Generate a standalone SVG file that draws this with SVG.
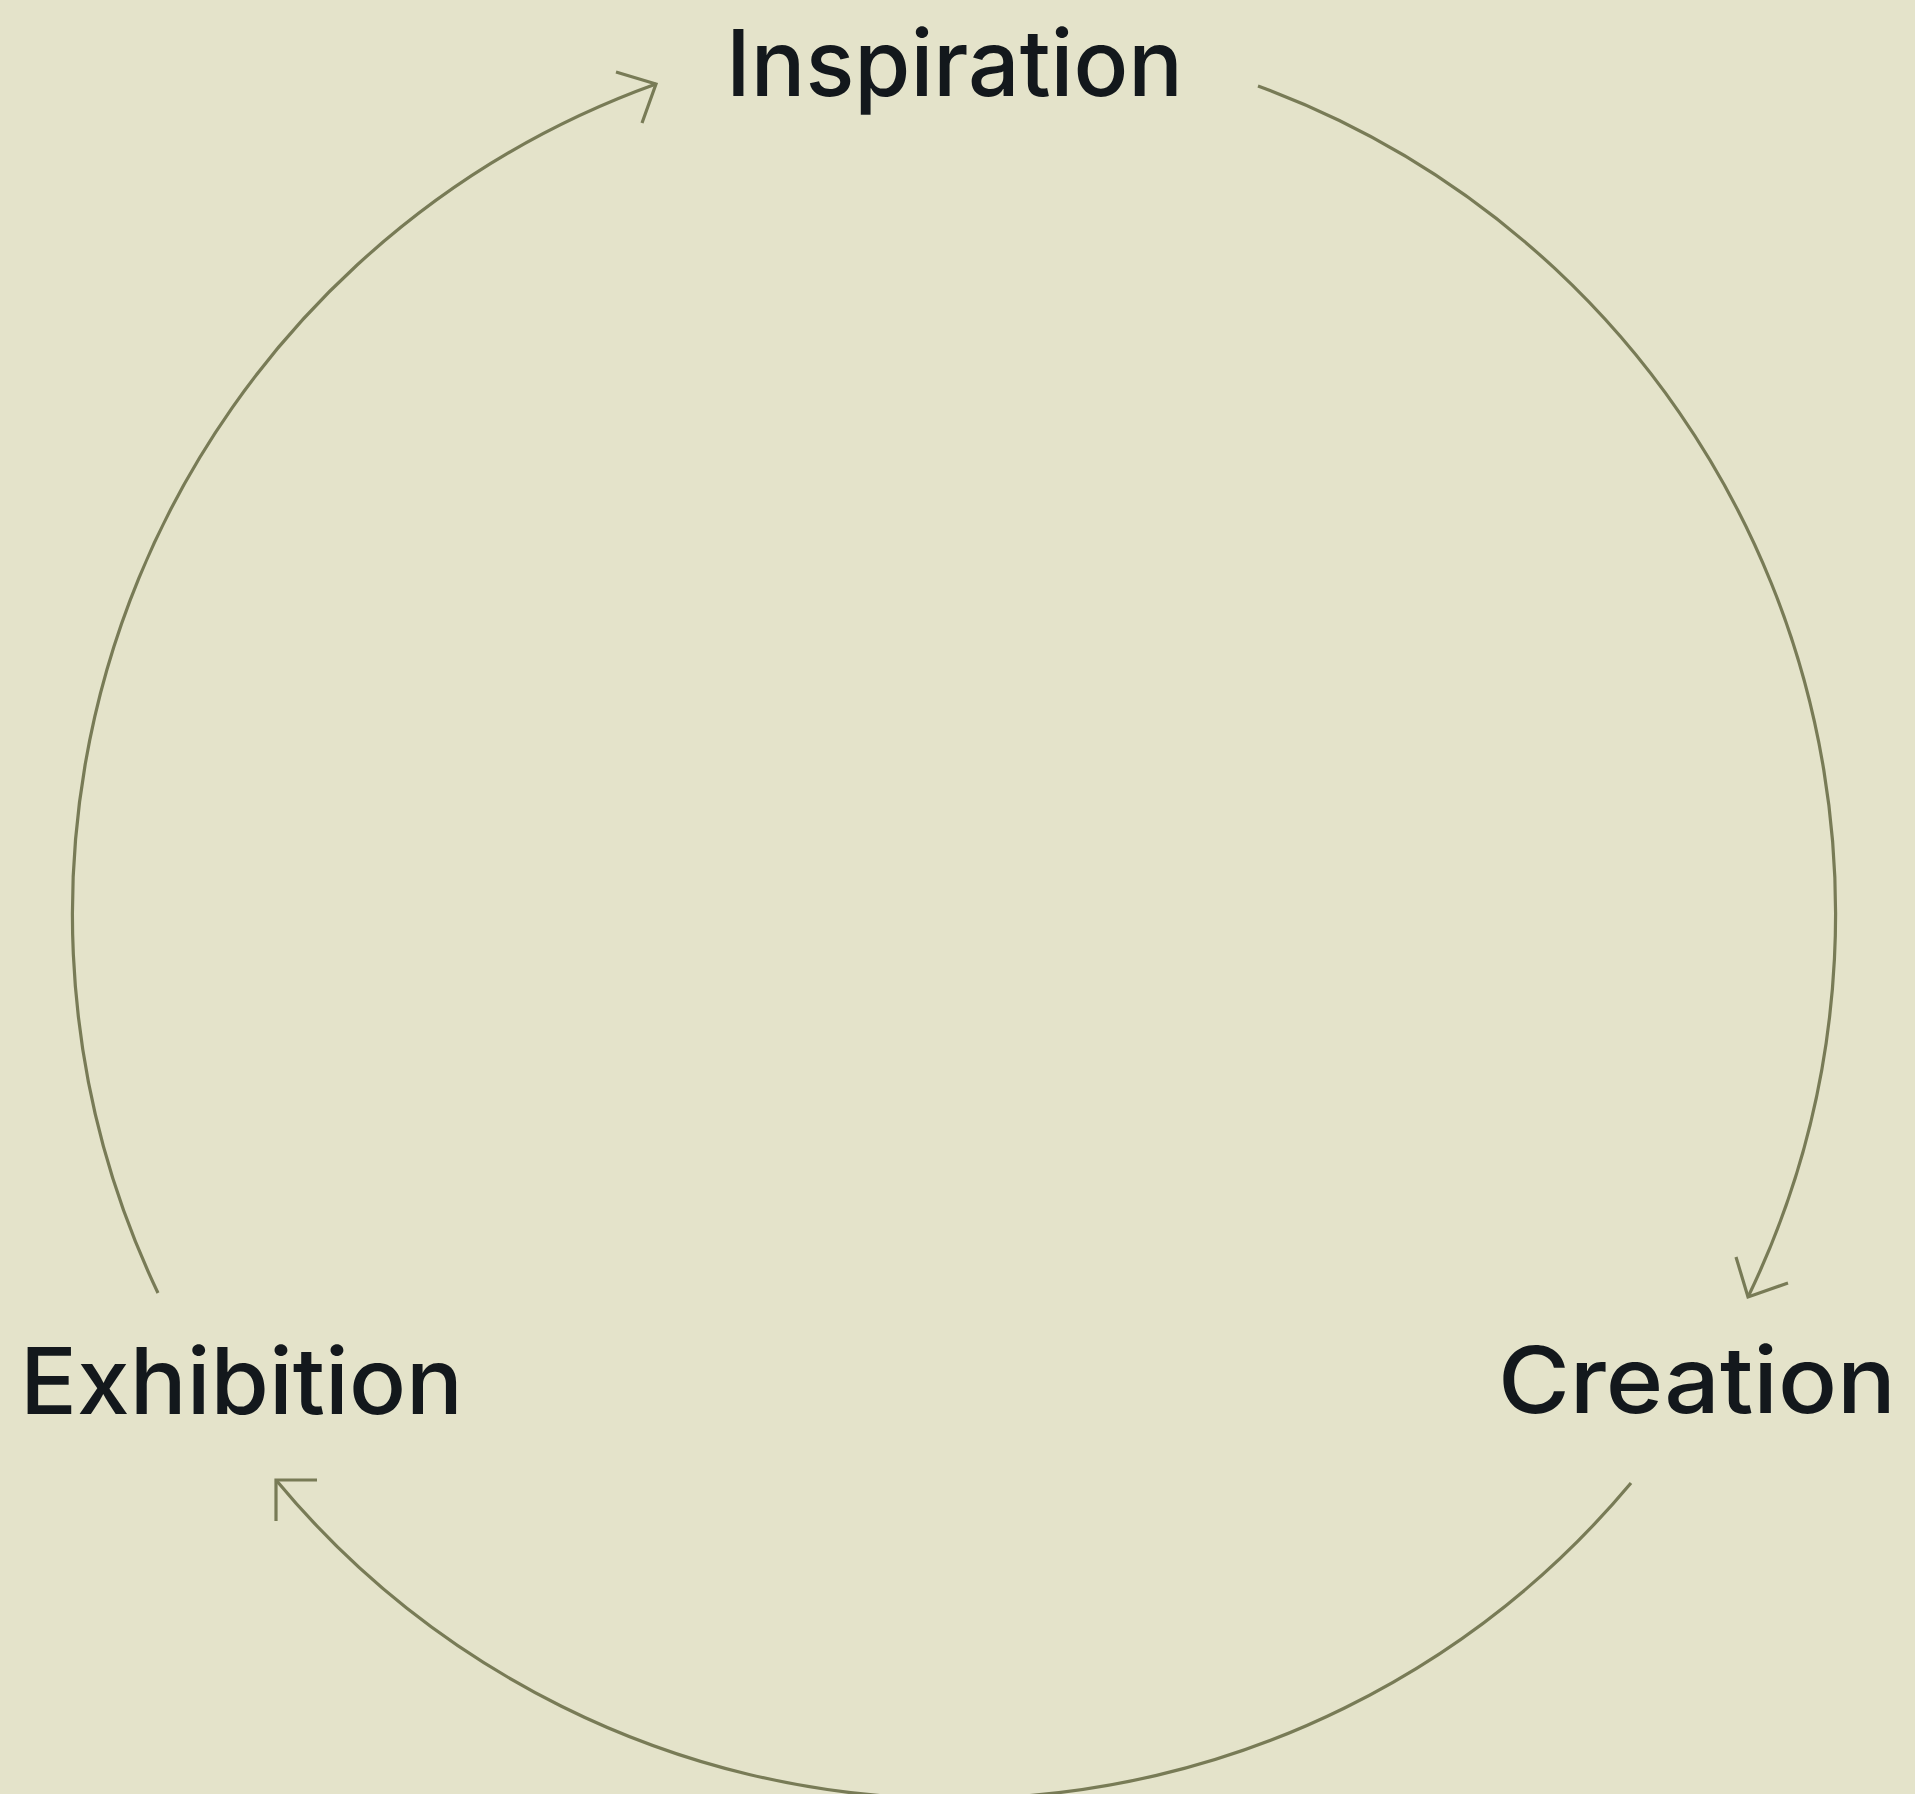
<svg xmlns="http://www.w3.org/2000/svg" width="1915" height="1794" viewBox="0 0 1915 1794">
  <style>
    .bg { fill: #e4e3ca; }
    .label { font-family: Inter, "Liberation Sans", sans-serif; font-weight: 500; font-size: 92px; fill: #13181c; }
    .arc { fill: none; stroke: #787b56; stroke-width: 3.2; }
    .head { fill: none; stroke: #787b56; stroke-width: 3.2; stroke-linejoin: miter; }
  </style>
  <rect class="bg" x="0" y="0" width="1915" height="1794"/>
  <g id="connectors">
    <path class="arc" d="M 1258 86 A 882 882 0 0 1 1748 1297"/>
    <polyline class="head" points="1736,1257 1748,1297 1788,1283"/>
    <path class="arc" d="M 1631 1483 A 882 882 0 0 1 276 1480"/>
    <polyline class="head" points="317,1480 276,1480 276,1521"/>
    <path class="arc" d="M 158 1293 A 882 882 0 0 1 656 84"/>
    <polyline class="head" points="616,72 656,84 642,123"/>
  </g>
  <g id="node-inspiration">
    <text class="label" x="726" y="96" textLength="457" lengthAdjust="spacingAndGlyphs">Inspiration</text>
  </g>
  <g id="node-creation">
    <text class="label" x="1498" y="1413" textLength="398" lengthAdjust="spacingAndGlyphs">Creation</text>
  </g>
  <g id="node-exhibition">
    <text class="label" x="20" y="1414" textLength="443" lengthAdjust="spacingAndGlyphs">Exhibition</text>
  </g>
</svg>
